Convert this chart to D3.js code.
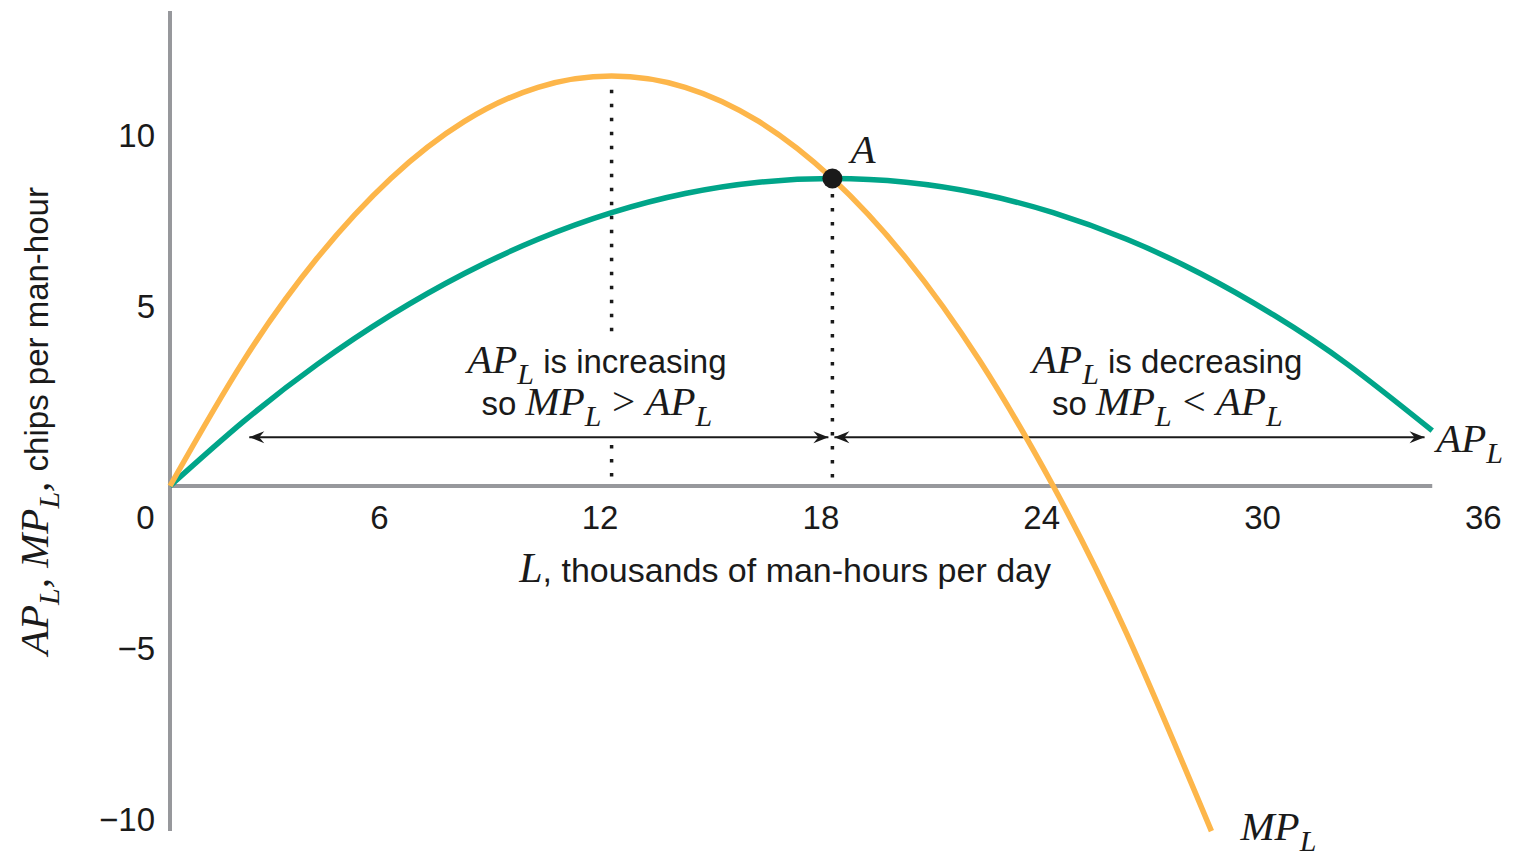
<!DOCTYPE html>
<html>
<head>
<meta charset="utf-8">
<script src="https://cdn.jsdelivr.net/npm/d3@7"></script>
<style>
  html, body { margin: 0; padding: 0; background: #ffffff; }
  svg { display: block; }
  .sans { font-family: "Liberation Sans", Arial, sans-serif; }
  .serif { font-family: "Liberation Serif", "Times New Roman", serif; font-style: italic; }
</style>
</head>
<body>
<svg id="chart" width="1516" height="863"></svg>
<script>
// Labour input L (thousands of man-hours per day) and the product curves
const apLabour = [0, 2, 4, 6, 8, 10, 12, 14, 16, 18, 20, 22, 24, 26, 28, 30, 32, 34.3];
const apValues = [0, 1.89, 3.56, 5, 6.22, 7.22, 8, 8.56, 8.89, 9, 8.89, 8.56, 8, 7.22, 6.22, 5, 3.56, 1.62];

const mpLabour = [0, 2, 4, 6, 8, 10, 12, 14, 16, 18, 20, 22, 24, 26, 28.3];
const mpValues = [0, 3.67, 6.67, 9, 10.67, 11.67, 12, 11.67, 10.67, 9, 6.67, 3.67, 0, -4.33, -10.1];

// Axis ticks and extents
const xTicks = [0, 6, 12, 18, 24, 30, 36];
const yTicks = [-10, -5, 5, 10];
const xAxisExtent = [0, 34.3];
const yAxisExtent = [-10.1, 13.9];

// Point A (maximum of AP_L, where MP_L = AP_L) and MP_L maximum
const pointA = { L: 18, v: 9 };
const mpPeak = { L: 12, v: 12 };

// Double-headed range arrows drawn at this product level
const arrowLevel = 1.43;
const arrowSpans = [[2.1, 18], [18, 34.2]];

const svg = d3.select("#chart");

const x = d3.scaleLinear().domain([0, 36]).range([170, 170 + 36 * 36.8]);
const y = d3.scaleLinear().domain([0, 12]).range([486, 76]);

const ORANGE = "#fdb64a";
const GREEN = "#00a589";
const AXIS = "#97989c";
const INK = "#1a1a1a";

// arrowhead marker
const defs = svg.append("defs");
defs.append("marker")
  .attr("id", "head")
  .attr("viewBox", "-16 -8 18 16")
  .attr("refX", 0).attr("refY", 0)
  .attr("markerWidth", 18).attr("markerHeight", 16)
  .attr("markerUnits", "userSpaceOnUse")
  .attr("orient", "auto-start-reverse")
  .append("path")
  .attr("d", "M0,0 L-15,-6 L-10,0 L-15,6 Z")
  .attr("fill", INK);

// axis lines
svg.append("line")
  .attr("x1", x(0)).attr("x2", x(0))
  .attr("y1", y(yAxisExtent[1])).attr("y2", y(yAxisExtent[0]))
  .attr("stroke", AXIS).attr("stroke-width", 4);
svg.append("line")
  .attr("x1", x(xAxisExtent[0])).attr("x2", x(xAxisExtent[1]))
  .attr("y1", y(0)).attr("y2", y(0))
  .attr("stroke", AXIS).attr("stroke-width", 4);

// x tick labels (set slightly left of each tick value)
const xAxis = svg.append("g")
  .attr("transform", `translate(0,${y(0)})`)
  .call(d3.axisBottom(x).tickValues(xTicks).tickSize(0).tickPadding(20).tickFormat(d3.format("d")));
xAxis.select(".domain").remove();
xAxis.selectAll("text")
  .attr("class", "sans")
  .attr("font-size", 33)
  .attr("fill", INK)
  .attr("dx", -12);
xAxis.selectAll(".tick").filter(d => d === 0).select("text")
  .attr("text-anchor", "end").attr("dx", 0).attr("x", -16);

// y tick labels
const yAxis = svg.append("g")
  .attr("transform", `translate(${x(0)},0)`)
  .call(d3.axisLeft(y).tickValues(yTicks).tickSize(0).tickPadding(15)
    .tickFormat(d => d < 0 ? "\u2212" + Math.abs(d) : String(d)));
yAxis.select(".domain").remove();
yAxis.selectAll("text")
  .attr("class", "sans")
  .attr("font-size", 33)
  .attr("fill", INK)
  .attr("transform", "translate(0,-8)");

// range arrows
arrowSpans.forEach(([a, b]) => {
  svg.append("line")
    .attr("x1", x(a) + 2).attr("x2", x(b) - 4)
    .attr("y1", y(arrowLevel)).attr("y2", y(arrowLevel))
    .attr("stroke", INK).attr("stroke-width", 2)
    .attr("marker-start", "url(#head)")
    .attr("marker-end", "url(#head)");
});

// dotted guides
const dotted = (L, v0, v1) => svg.append("line")
  .attr("x1", x(L)).attr("x2", x(L))
  .attr("y1", y(v0)).attr("y2", y(v1))
  .attr("stroke", INK).attr("stroke-width", 3.5)
  .attr("stroke-dasharray", "3.5 10.5");
dotted(mpPeak.L, 11.6, 4.3);
dotted(mpPeak.L, 1.2, 0);
dotted(pointA.L, pointA.v - 0.45, 0);

// curves
const line = d3.line()
  .x(d => x(d[0]))
  .y(d => y(d[1]))
  .curve(d3.curveNatural);

svg.append("path")
  .datum(d3.zip(apLabour, apValues))
  .attr("d", line)
  .attr("fill", "none")
  .attr("stroke", GREEN)
  .attr("stroke-width", 5.5);

svg.append("path")
  .datum(d3.zip(mpLabour, mpValues))
  .attr("d", line)
  .attr("fill", "none")
  .attr("stroke", ORANGE)
  .attr("stroke-width", 5.5);

// point A
svg.append("circle")
  .attr("cx", x(pointA.L)).attr("cy", y(pointA.v))
  .attr("r", 10).attr("fill", INK);

// rich text: italic serif symbols with subscripts, mixed with sans words
function rich(sel, parts, size) {
  const sub = size.sub, drop = size.drop;
  let shifted = false;
  parts.forEach(p => {
    const t = sel.append("tspan").text(p.t);
    if (p.sub) {
      t.attr("class", "serif").attr("font-size", sub).attr("dy", drop);
      shifted = true;
    } else {
      if (shifted) { t.attr("dy", -drop); shifted = false; }
      if (p.it) t.attr("class", "serif").attr("font-size", size.serif);
      else t.attr("class", "sans").attr("font-size", size.sans);
    }
  });
  return sel;
}
const sz = { serif: 41, sub: 30, drop: 11, sans: 33 };

function label(px, py, anchor, parts, extra, size) {
  const t = svg.append("text")
    .attr("x", px).attr("y", py)
    .attr("text-anchor", anchor)
    .attr("fill", INK);
  if (extra) extra(t);
  return rich(t, parts, size || sz);
}

const AP = [{ t: "AP", it: true }, { t: "L", sub: true }];
const MP = [{ t: "MP", it: true }, { t: "L", sub: true }];

// annotations in the two ranges
label(x(11.6), y(3.31), "middle", [...AP, { t: " is increasing" }]);
label(x(11.6), y(2.08), "middle", [{ t: "so " }, ...MP, { t: "\u2009>\u2009", it: true }, ...AP]);
label(x(27.1), y(3.31), "middle", [...AP, { t: " is decreasing" }]);
label(x(27.1), y(2.08), "middle", [{ t: "so " }, ...MP, { t: "\u2009<\u2009", it: true }, ...AP]);

// curve names
label(x(xAxisExtent[1]) + 4, y(apValues[apValues.length - 1]) + 21, "start", AP);
label(x(mpLabour[mpLabour.length - 1]) + 29, y(mpValues[mpValues.length - 1]) + 9, "start", MP);

// point label
label(x(pointA.L) + 18, y(pointA.v) - 16, "start", [{ t: "A", it: true }]);

// axis titles
label((x(0) + x(xAxisExtent[1])) / 2 - 16, y(0) + 96, "middle",
  [{ t: "L", it: true }, { t: ", thousands of man-hours per day" }],
  null, { serif: 42, sub: 30, drop: 11, sans: 34 });

const yMid = (y(yAxisExtent[0]) + y(yAxisExtent[1])) / 2;
label(0, 0, "middle",
  [...AP, { t: ", ", it: true }, ...MP, { t: ", ", it: true }, { t: "chips per man-hour" }],
  t => t.attr("transform", `translate(48,${yMid}) rotate(-90)`));
</script>
</body>
</html>
